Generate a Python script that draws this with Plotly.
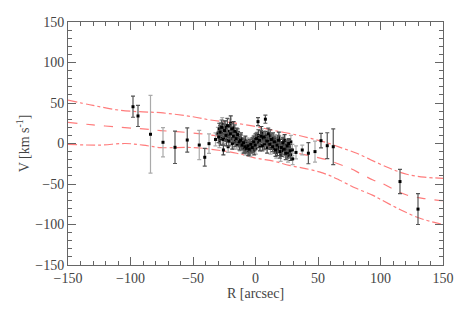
import plotly.graph_objects as go

# Model curves (R, V)
upper_r = [-150, -130, -108, -90, -76, -50, -36, -20, 0, 15, 33, 45, 57, 70, 81, 92, 105, 113, 121, 135, 150]
upper_v = [53.5, 47, 41, 39, 38, 33, 29, 26, 21, 16, 10.5, 6, 1, -6, -12, -20, -29, -34, -38, -41.5, -43]
mid_r = [-150, -130, -108, -90, -76, -50, -36, -15, 0, 15, 27.6, 40, 57, 66, 75.6, 85, 94, 101, 111, 121, 135, 150]
mid_v = [26, 23, 20, 18, 16, 13, 10.5, 5, 1, -5, -10, -14, -20, -25, -30.6, -38, -45, -49, -57, -63.6, -68, -70.6]
low_r = [-150, -125, -104, -90, -76, -50, -36, -15, 0, 15, 27, 40, 51, 60, 67, 80, 94, 100, 115, 131, 150]
low_v = [-1, -2, 0, -2, -5, -5, -7, -12, -18, -22, -27, -31, -35, -40, -45, -55, -64, -69, -81, -92, -100]

# Dataset A (dark error bars)
a_r = [-98, -94, -64.4, -54.6, -40.6, 42.3, 52.4, 57.4, 62.2, 115.6, 130,
       -29.5, -28.3, -27.1, -26.0, -24.8, -23.6, -22.5, -21.3, -20.1, -19.0,
       -17.8, -16.6, -15.5, -14.3, -13.1, -12.0, -10.8, -9.6, -8.5, -7.3,
       -6.1, -5.0, -3.8, -2.6, -1.5, -0.3, 0.9, 2.0, 3.2, 4.4,
       5.5, 6.7, 7.9, 9.0, 10.2, 11.4, 12.5, 13.7, 14.9, 16.0,
       17.2, 18.4, 19.5, 20.7, 21.9, 23.0, 24.2, 25.4, 26.5, 27.7]
a_v = [45.4, 34, -4.7, 4.3, -17, -12, 3.5, -2.7, -4, -47, -81,
       8, 14, 20, 5, 16, 10, 22, 3, 12, 18,
       9, 15, 6, 11, 2, 4, -2, 1, -4, -6,
       -3, -7, -1, -5, 2, -2, 6, 27, 4, 9,
       -3, 8, 30, 3, 12, -1, 5, -4, 2, -8,
       -2, 4, -10, -5, 1, -7, -12, -3, 0, -9]
a_e = [13, 13, 20, 15, 11, 13, 9, 16, 22, 15, 19,
       7, 8, 9, 7, 8, 7, 9, 6, 8, 7,
       7, 8, 6, 7, 6, 7, 6, 6, 7, 6,
       6, 7, 6, 6, 7, 6, 7, 5, 6, 7,
       6, 7, 5, 6, 7, 6, 7, 6, 7, 8,
       7, 6, 8, 7, 6, 7, 8, 7, 6, 8]

# Dataset B (light error bars)
b_r = [-84, -74, -45, -37.2, -32, 29.7, 32.4, 37.4, 47.6,
       -30.1, -28.9, -27.7, -26.6, -25.4, -24.2, -23.0, -21.9, -20.7, -19.5,
       -18.4, -17.2, -16.0, -14.9, -13.7, -12.5, -11.4, -10.2, -9.0, -7.9,
       -6.7, -5.5, -4.4, -3.2, -2.0, -0.9, 0.3, 1.5, 2.6, 3.8,
       5.0, 6.1, 7.3, 8.5, 9.6, 10.8, 12.0, 13.1, 14.3, 15.5,
       16.6, 17.8, 19.0, 20.1, 21.3, 22.5, 23.6, 24.8, 26.0, 27.1,
       28.3, 29.5]
b_v = [11.4, 1.5, -1.9, -0.2, 5, -19, -11, -8, -10,
       12, 2, 17, 24, 7, 19, 13, -4, 21, 6,
       14, 1, 9, -1, 7, -3, 3, -6, -1, -8,
       0, -4, -9, 1, -3, 4, -6, 8, 2, -2,
       11, 5, -1, 6, 0, 8, -6, 3, -3, 5,
       -11, -4, 2, -14, -6, 3, -9, -2, -15, -5,
       2, -8]
b_e = [48, 18, 18, 12, 8, 7, 8, 6, 13,
       8, 7, 9, 8, 7, 9, 8, 7, 9, 8,
       7, 8, 7, 6, 7, 6, 7, 6, 7, 6,
       7, 6, 7, 6, 7, 6, 7, 6, 7, 6,
       7, 6, 7, 6, 7, 6, 7, 6, 7, 6,
       7, 8, 7, 8, 7, 6, 8, 7, 8, 7,
       8, 7]

# Dataset C (additional central points, dark bars)
c_r = [-29.0, -27.9, -26.8, -25.7, -24.5, -23.3, -22.1, -21.0, -19.8, -18.6,
       -17.5, -16.3, -15.1, -14.0, -12.8, -11.6, -10.5, -9.3, -8.1, -7.0,
       -5.8, -4.6, -3.5, -2.3, -1.1, 0.0, 1.2, 2.3, 3.5, 4.7,
       5.8, 7.0, 8.2, 9.3, 10.5, 11.7, 12.8, 14.0, 15.2, 16.3,
       17.5, 18.7, 19.8, 21.0, 22.2, 23.3, 24.5, 25.7, 26.8, 28.0]
c_v = [18, 6, 12, -8, 20, 4, 15, 9, 25, 0,
       19, 3, 13, 8, -2, 6, 0, -5, 3, -3,
       -9, -2, -6, 0, -8, 5, 1, 10, -3, 14,
       7, 0, 9, -5, 4, 10, 0, 6, -6, 1,
       -7, 7, -3, -9, -1, 4, -6, -11, -3, -14]
c_e = [7, 8, 7, 6, 8, 7, 8, 7, 9, 7,
       8, 7, 6, 7, 6, 7, 6, 7, 6, 7,
       6, 7, 6, 7, 6, 7, 6, 7, 6, 7,
       6, 7, 6, 7, 6, 7, 6, 7, 6, 7,
       8, 7, 8, 7, 8, 7, 8, 7, 8, 7]

fig = go.Figure()
line_col = "rgba(255,80,80,0.75)"
fig.add_trace(go.Scatter(x=upper_r, y=upper_v, mode="lines", line=dict(color=line_col, width=1.2, dash="dashdot"), line_shape="spline"))
fig.add_trace(go.Scatter(x=mid_r, y=mid_v, mode="lines", line=dict(color=line_col, width=1.2, dash="dash"), line_shape="spline"))
fig.add_trace(go.Scatter(x=low_r, y=low_v, mode="lines", line=dict(color=line_col, width=1.2, dash="dashdot"), line_shape="spline"))

fig.add_trace(go.Scatter(x=b_r, y=b_v, mode="markers",
                         marker=dict(symbol="square", size=3, color="black"),
                         error_y=dict(type="data", array=b_e, color="#aaaaaa", thickness=1.2, width=2)))
fig.add_trace(go.Scatter(x=c_r, y=c_v, mode="markers",
                         marker=dict(symbol="square", size=3, color="black"),
                         error_y=dict(type="data", array=c_e, color="#444444", thickness=1.2, width=2)))
fig.add_trace(go.Scatter(x=a_r, y=a_v, mode="markers",
                         marker=dict(symbol="square", size=3, color="black"),
                         error_y=dict(type="data", array=a_e, color="#555555", thickness=1.2, width=2)))

font = dict(family="Liberation Serif", size=14, color="#444444")
axis_common = dict(showgrid=False, zeroline=False, showline=True, linecolor="#666666", linewidth=1,
                   mirror="allticks", ticks="inside", ticklen=8, tickcolor="#666666", tickwidth=1,
                   tickfont=font, dtick=50, automargin=False)
fig.update_layout(
    width=455, height=301, showlegend=False,
    paper_bgcolor="white", plot_bgcolor="white",
    margin=dict(l=60, r=20, t=14, b=44, autoexpand=False),
    xaxis=dict(range=[-150, 150], title=dict(text="R [arcsec]", font=font, standoff=2),
               minor=dict(dtick=10, ticks="inside", ticklen=4, tickcolor="#666666"), **axis_common),
    yaxis=dict(range=[-150, 150], title=dict(text="V [km s<sup>-1</sup>]", font=font, standoff=2),
               minor=dict(dtick=10, ticks="inside", ticklen=4, tickcolor="#666666"), **axis_common),
)
fig.write_html("out.html")
